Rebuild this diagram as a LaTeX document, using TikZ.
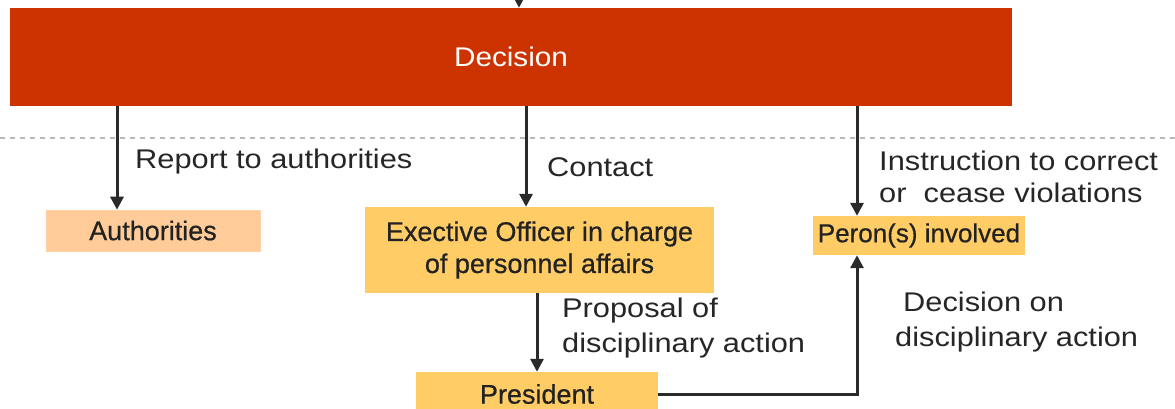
\documentclass[tikz,border=0pt]{standalone}
\usepackage{fontspec}
\setmainfont{Liberation Sans}
\newfontfamily\labfont[FakeStretch=1.14]{Liberation Sans}
\newfontfamily\boxfont[FakeBold=0.6]{Liberation Sans}
\newfontfamily\decfont[FakeStretch=1.10]{Liberation Sans}
\usetikzlibrary{arrows.meta}
\definecolor{decred}{HTML}{CC3300}
\definecolor{authfill}{HTML}{FFCC99}
\definecolor{boxfill}{HTML}{FFCC66}
\definecolor{txt}{HTML}{222222}
\definecolor{ln}{HTML}{2A2A2A}
\tikzset{
  x=1pt, y=-1pt,
  every node/.style={text=txt, inner sep=0pt},
  boxnode/.style={fill=boxfill, minimum width=#1, align=center, font=\boxfont\fontsize{27}{32}\selectfont},
  arr/.style={draw=ln, line width=3pt, -{Triangle[length=13pt,width=13pt]}},
  lab/.style={anchor=west, align=left, font=\labfont\fontsize{27}{33}\selectfont, text=black!85},
}
\begin{document}
\begin{tikzpicture}
\useasboundingbox (0,0) rectangle (1175,408);
% dotted separator
\draw[gray!55, line width=1.3pt, dash pattern=on 5pt off 5pt] (0,138) -- (1175,138);
% boxes
\node[fill=decred, minimum width=1002pt, minimum height=98pt, text=white, font=\decfont\fontsize{27}{32}\selectfont] (dec) at (511,57) {Decision};
\node[fill=authfill, draw=orange!35, line width=0.6pt, minimum width=214pt, minimum height=41pt, font=\boxfont\fontsize{27}{32}\selectfont] (auth) at (153,230.5) {Authorities};
\node[boxnode=349pt, minimum height=86pt] (exec) at (539.5,250) {Exective Officer in charge\\of personnel affairs};
\node[boxnode=212pt, minimum height=39pt, font=\boxfont\fontsize{26}{32}\selectfont] (pers) at (919,235.5) {Peron(s) involved};
\node[boxnode=242pt, minimum height=44pt] (pres) at (537,394) {President};
% coordinates
\coordinate (top) at (519,0);
\coordinate (xa) at (117,0);
\coordinate (xb) at (526,0);
\coordinate (xc) at (857,0);
\coordinate (xd) at (537,0);
\coordinate (corner) at (857,394);
% arrows
\draw[arr] (top) -- (dec.north -| top);
\draw[arr] (dec.south -| xa) -- (auth.north -| xa);
\draw[arr] (dec.south -| xb) -- (exec.north -| xb);
\draw[arr] (dec.south -| xc) -- (pers.north -| xc);
\draw[arr] (exec.south -| xd) -- (pres.north -| xd);
\draw[arr] (pres.east |- corner) -- (corner) -- (pers.south -| corner);
% labels
\node[lab] (l1) at (135,162) {Report to authorities};
\node[lab] (l2) at (547,167) {Contact};
\node[lab, font=\labfont\fontsize{27}{32}\selectfont] (l3) at (879,177) {Instruction to correct\\or\ \ cease violations};
\node[lab, font=\labfont\fontsize{27}{35}\selectfont] (l4) at (562,328.5) {Proposal of\\disciplinary action};
\node[lab, font=\labfont\fontsize{27}{35}\selectfont] (l5) at (895,322.5) {\hspace{8pt}Decision on\\disciplinary action};
\end{tikzpicture}
\end{document}
